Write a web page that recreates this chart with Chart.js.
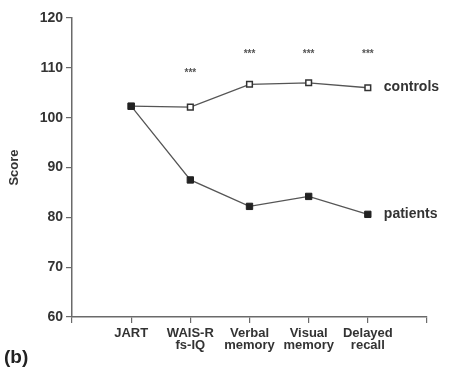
<!DOCTYPE html>
<html>
<head>
<meta charset="utf-8">
<script src="https://cdn.jsdelivr.net/npm/chart.js@4"></script>
<style>
    html, body { margin: 0; padding: 0; background: #fff; }
    #wrap { width: 453px; height: 379px; position: relative; }
</style>
</head>
<body>
<div id="wrap"><canvas id="chart"></canvas></div>
<script>
// 데이터
const categories = [['JART'], ['WAIS-R', 'fs-IQ'], ['Verbal', 'memory'], ['Visual', 'memory'], ['Delayed', 'recall']];
const controls = [102.3, 102.1, 106.7, 107.0, 106.0];
const patients = [102.3, 87.5, 82.2, 84.2, 80.6];
const significance = ['', '***', '***', '***', '***'];
const starLevel = [null, 109.0, 112.8, 112.8, 112.8];
const yTicks = [60, 70, 80, 90, 100, 110, 120];

const ink = '#333333';
const axisColor = '#6a6a6a';
const font = 'Liberation Sans, Arial, Helvetica, sans-serif';

const toPoints = arr => arr.map((v, i) => ({ x: i + 1, y: v }));

// 주석 플러그인: 별표, 시리즈 라벨, (b)
const annotations = {
    id: 'annotations',
    afterDatasetsDraw(chart) {
        const ctx = chart.ctx;
        const xs = chart.scales.x;
        const ys = chart.scales.y;
        ctx.save();
        ctx.fillStyle = '#555';
        ctx.font = 'bold 10px ' + font;
        ctx.textAlign = 'center';
        ctx.textBaseline = 'middle';
        significance.forEach((s, i) => {
            if (!s) return;
            ctx.fillText(s, xs.getPixelForValue(i + 1), ys.getPixelForValue(starLevel[i]));
        });

        const last = categories.length;
        ctx.fillStyle = ink;
        ctx.font = 'bold 14px ' + font;
        ctx.textAlign = 'left';
        ctx.fillText('controls', xs.getPixelForValue(last) + 16, ys.getPixelForValue(controls[last - 1]) - 1);
        ctx.fillText('patients', xs.getPixelForValue(last) + 16, ys.getPixelForValue(patients[last - 1]));

        ctx.font = 'bold 19px ' + font;
        ctx.fillStyle = '#222';
        ctx.fillText('(b)', 4, 358);
        ctx.restore();
    }
};

new Chart(document.getElementById('chart'), {
    type: 'line',
    data: {
        datasets: [
            {
                label: 'controls',
                data: toPoints(controls),
                order: 1,
                borderColor: '#555',
                borderWidth: 1.3,
                pointStyle: 'rect',
                pointRadius: 4,
                pointBackgroundColor: '#fff',
                pointBorderColor: '#333',
                pointBorderWidth: 1.5,
                tension: 0
            },
            {
                label: 'patients',
                data: toPoints(patients),
                order: 0,
                borderColor: '#555',
                borderWidth: 1.3,
                pointStyle: 'rect',
                pointRadius: 4.5,
                pointBackgroundColor: '#222',
                pointBorderColor: '#222',
                pointBorderWidth: 1,
                tension: 0
            }
        ]
    },
    options: {
        responsive: true,
        maintainAspectRatio: false,
        animation: false,
        layout: { padding: { top: 18, right: 26, left: 0, bottom: 0 } },
        plugins: {
            legend: { display: false },
            tooltip: { enabled: false }
        },
        scales: {
            x: {
                type: 'linear',
                min: 0,
                max: 6,
                afterBuildTicks: scale => {
                    scale.ticks = [0, 1, 2, 3, 4, 5, 6].map(v => ({ value: v }));
                },
                afterFit: scale => { scale.height = 62; },
                border: { display: true, color: axisColor, width: 1.5 },
                grid: { drawOnChartArea: false, drawTicks: true, tickLength: 6, color: axisColor, lineWidth: 1.2 },
                ticks: {
                    color: ink,
                    font: { family: font, size: 13, weight: 'bold', lineHeight: 0.95 },
                    padding: 4,
                    maxRotation: 0,
                    autoSkip: false,
                    callback: v => (v >= 1 && v <= categories.length) ? categories[v - 1] : ''
                }
            },
            y: {
                min: 60,
                max: 120,
                afterBuildTicks: scale => {
                    scale.ticks = yTicks.map(v => ({ value: v }));
                },
                afterFit: scale => { scale.width = 72; },
                border: { display: true, color: axisColor, width: 1.5 },
                grid: { drawOnChartArea: false, drawTicks: true, tickLength: 6, color: axisColor, lineWidth: 1.2 },
                title: {
                    display: true,
                    text: 'Score',
                    color: ink,
                    font: { family: font, size: 13, weight: 'bold' },
                    padding: { top: 7, bottom: 0 }
                },
                ticks: {
                    color: ink,
                    font: { family: font, size: 14, weight: 'bold' },
                    padding: 3
                }
            }
        }
    },
    plugins: [annotations]
});
</script>
</body>
</html>
